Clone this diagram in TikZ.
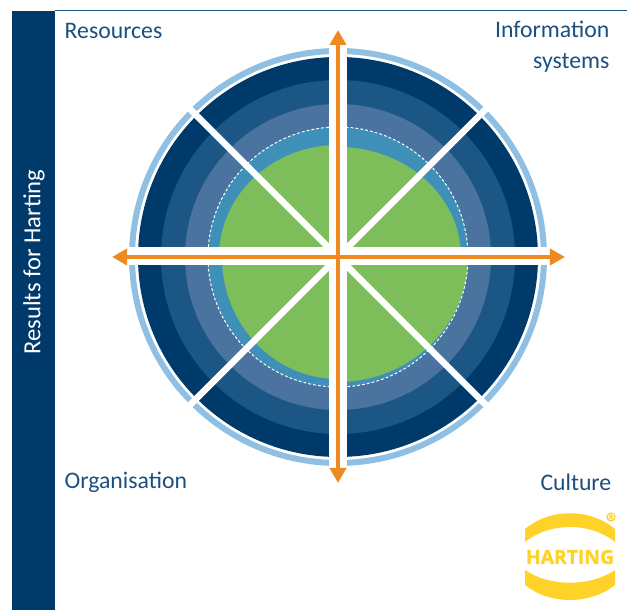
\documentclass[tikz,border=0pt]{standalone}
\usepackage{fontspec}
\setmainfont{Carlito}
\newfontfamily\logofont[BoldFeatures={FakeBold=1.2}]{Open Sans}
\usetikzlibrary{arrows.meta}
\definecolor{navy}{HTML}{003A6B}
\definecolor{midblue}{HTML}{1B5685}
\definecolor{greyblue}{HTML}{4B739F}
\definecolor{teal}{HTML}{3E90B8}
\definecolor{leaf}{HTML}{7DBE5A}
\definecolor{skyring}{HTML}{8FC0E3}
\definecolor{axis}{HTML}{EE8A21}
\definecolor{logoyellow}{HTML}{FFD229}
\definecolor{labelblue}{HTML}{1B4F7F}
\tikzset{
    cornerlabel/.style={text=labelblue,font=\fontsize{6.75}{8.8}\selectfont,align=center,inner sep=0pt},
    sidelabel/.style={text=white,font=\fontsize{7}{8.8}\selectfont,inner sep=0pt},
    axisarrow/.style={draw=axis,line width=.045cm,-{Triangle[length=.15cm,width=.16cm]}},
}
\begin{document}
\begin{tikzpicture}[x=.01cm,y=-.01cm]
    \useasboundingbox (0,0) rectangle (627,610);
    \fill[navy] (12,11) rectangle (55,610);
    \draw[midblue,line width=.01cm] (55,11)--(627,11);
    \begin{scope}[shift={(338,257)}]
        % rings
        \draw[skyring,line width=.06cm] (0,0) circle (206);
        \fill[navy] (0,0) circle (200);
        \fill[midblue] (0,0) circle (177);
        \fill[greyblue] (0,0) circle (153);
        \fill[teal] (0,0) circle (130);
        % green part of each quadrant
        \begin{scope}
            \clip (-200,-200) rectangle (0,0);
            \fill[leaf] (0,0) ellipse (119 and 112);
        \end{scope}
        \begin{scope}
            \clip (0,-200) rectangle (200,0);
            \fill[leaf] (0,0) ellipse (123 and 110);
        \end{scope}
        \begin{scope}
            \clip (0,0) rectangle (200,200);
            \fill[leaf] (0,0) ellipse (130 and 125);
        \end{scope}
        \begin{scope}
            \clip (-200,0) rectangle (0,200);
            \fill[leaf] (0,0) ellipse (116 and 122);
        \end{scope}
        \draw[white,line width=.01cm,dashed,dash pattern=on .8pt off .6pt] (0,0) circle (130);
        % white gaps
        \fill[white] (-9,-225) rectangle (9,225);
        \fill[white] (-225,-10) rectangle (225,8);
        \foreach \a in {45,135}
        {
            \draw[white,line width=.065cm,rotate=\a] (-218,0)--(218,0);
        }
        \coordinate (west) at (-226,0);
        \coordinate (east) at (227,0);
        \coordinate (north) at (0,-227);
        \coordinate (south) at (0,226);
    \end{scope}
    \coordinate (centre) at (338,257);
    \draw[axisarrow] (centre)--(east);
    \draw[axisarrow] (centre)--(west);
    \draw[axisarrow] (centre)--(north);
    \draw[axisarrow] (centre)--(south);
    \node[cornerlabel,anchor=west] (resources) at (64,31) {Resources};
    \node[cornerlabel,anchor=east,align=right] (information) at (610,47) {Information\\systems};
    \node[cornerlabel,anchor=west] (organisation) at (64,482) {Organisation};
    \node[cornerlabel,anchor=east] (culture) at (612,482) {Culture};
    \node[sidelabel,rotate=90] (results) at (34,262) {Results for Harting};
    % logo
    \fill[logoyellow] (525,529) .. controls (550,508) and (590,508) .. (615,529)
        -- (615,542) .. controls (590,522) and (550,522) .. (525,542) -- cycle;
    \fill[logoyellow] (525,570) .. controls (550,587) and (590,587) .. (615,570)
        -- (615,585) .. controls (590,605) and (550,605) .. (525,585) -- cycle;
    \node[text=logoyellow,inner sep=0pt,font=\logofont\fontsize{5.5}{6}\selectfont\bfseries] (logo) at (570,557) {HARTING};
    \node[text=logoyellow,circle,draw=logoyellow,line width=.012cm,inner sep=0pt,minimum size=.08cm,font=\logofont\fontsize{1.8}{2}\selectfont\bfseries] (mark) at (611,517) {R};
\end{tikzpicture}
\end{document}
